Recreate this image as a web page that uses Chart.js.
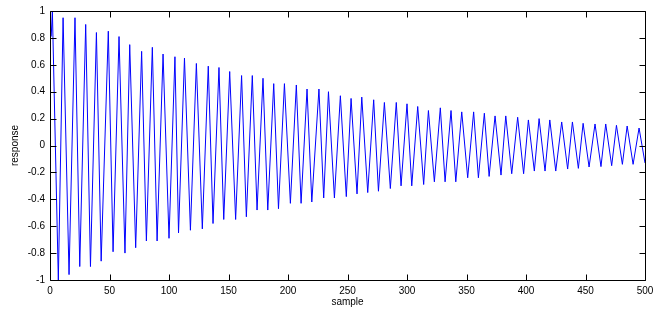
<!DOCTYPE html>
<html>
<head>
<meta charset="utf-8">
<script src="https://cdn.jsdelivr.net/npm/chart.js@4/dist/chart.umd.min.js"></script>
<style>
  html, body { margin: 0; padding: 0; background: #fff; }
  #wrap { width: 661px; height: 309px; position: relative; }
</style>
</head>
<body>
<div id="wrap"><canvas id="chart"></canvas></div>
<script>
// local maxima / minima of the response (sample index, value)
const peakSamples = [2, 11, 21, 30, 39, 49, 58, 67, 77, 86, 95, 105, 113, 123, 133, 142, 151, 161, 170, 179,
  188, 197, 207, 216, 226, 234, 244, 253, 262, 272, 281, 291, 300, 309, 318, 328, 337, 346, 356, 365,
  374, 383, 393, 402, 411, 420, 430, 439, 448, 458, 467, 476, 485, 495];
const peakValues = [1.0, 0.95, 0.95, 0.90, 0.84, 0.85, 0.81, 0.75, 0.70, 0.73, 0.68, 0.66, 0.65, 0.61, 0.59, 0.58, 0.55, 0.52, 0.52, 0.50,
  0.46, 0.46, 0.45, 0.42, 0.42, 0.40, 0.37, 0.35, 0.36, 0.34, 0.32, 0.32, 0.31, 0.29, 0.26, 0.28, 0.26, 0.25, 0.25, 0.24,
  0.22, 0.22, 0.21, 0.19, 0.20, 0.19, 0.175, 0.175, 0.165, 0.16, 0.16, 0.15, 0.145, 0.13];
const troughSamples = [7, 16, 25, 34, 43, 53, 63, 72, 81, 90, 100, 108, 118, 128, 137, 146, 156, 165, 174, 183,
  192, 202, 211, 220, 230, 239, 249, 258, 267, 276, 286, 295, 304, 314, 323, 332, 341, 351, 360, 369,
  379, 388, 398, 407, 416, 425, 435, 444, 453, 463, 472, 481, 490];
const troughValues = [-1.0, -0.96, -0.90, -0.90, -0.86, -0.79, -0.80, -0.76, -0.71, -0.71, -0.69, -0.65, -0.63, -0.62, -0.58, -0.55, -0.55, -0.53, -0.48, -0.48,
  -0.47, -0.43, -0.43, -0.42, -0.39, -0.39, -0.38, -0.36, -0.35, -0.34, -0.32, -0.30, -0.30, -0.29, -0.27, -0.27, -0.27, -0.24, -0.24, -0.23,
  -0.22, -0.21, -0.21, -0.19, -0.19, -0.19, -0.175, -0.17, -0.16, -0.157, -0.15, -0.14, -0.14];
// first and last sample
const edgeSamples = [1, 500];
const edgeValues = [0.81, -0.13];

const xTicks = [0, 50, 100, 150, 200, 250, 300, 350, 400, 450, 500];
const xTickLabels = ['0', '50', '100', '150', '200', '250', '300', '350', '400', '450', '500'];
const yTicks = [-1, -0.8, -0.6, -0.4, -0.2, 0, 0.2, 0.4, 0.6, 0.8, 1];
const yTickLabels = ['-1', '-0.8', '-0.6', '-0.4', '-0.2', '0', '0.2', '0.4', '0.6', '0.8', '1'];

const pts = [];
peakSamples.forEach((s, i) => pts.push({ x: s, y: peakValues[i] }));
troughSamples.forEach((s, i) => pts.push({ x: s, y: troughValues[i] }));
edgeSamples.forEach((s, i) => pts.push({ x: s, y: edgeValues[i] }));
pts.sort((a, b) => a.x - b.x);

const FONT = { family: '"Liberation Sans", Arial, Helvetica, sans-serif', size: 10 };

// matlab style box with inward ticks on all four sides
const boxPlugin = {
  id: 'box',
  afterDraw(chart) {
    const { ctx, chartArea: a, scales } = chart;
    const L = Math.round(a.left) + 0.5, R = Math.round(a.right) + 0.5;
    const T = Math.round(a.top) + 0.5, B = Math.round(a.bottom) + 0.5;
    const len = 6;
    ctx.save();
    ctx.strokeStyle = '#000';
    ctx.lineWidth = 1;
    ctx.beginPath();
    ctx.rect(L, T, R - L, B - T);
    xTicks.forEach(v => {
      const px = Math.round(scales.x.getPixelForValue(v)) + 0.5;
      ctx.moveTo(px, B); ctx.lineTo(px, B - len);
      ctx.moveTo(px, T); ctx.lineTo(px, T + len);
    });
    yTicks.forEach(v => {
      const py = Math.round(scales.y.getPixelForValue(v)) + 0.5;
      ctx.moveTo(L, py); ctx.lineTo(L + len, py);
      ctx.moveTo(R, py); ctx.lineTo(R - len, py);
    });
    ctx.stroke();
    ctx.restore();
  }
};

new Chart(document.getElementById('chart'), {
  type: 'line',
  data: {
    datasets: [{
      data: pts,
      borderColor: '#0000ff',
      borderWidth: 1,
      pointRadius: 0,
      tension: 0,
      fill: false
    }]
  },
  options: {
    responsive: true,
    maintainAspectRatio: false,
    animation: false,
    events: [],
    layout: { padding: { left: 0, right: 16, top: 9, bottom: 0 } },
    plugins: { legend: { display: false }, tooltip: { enabled: false } },
    scales: {
      x: {
        type: 'linear', min: 0, max: 500,
        grid: { display: false, drawTicks: false },
        border: { display: false },
        afterBuildTicks: s => { s.ticks = xTicks.map(v => ({ value: v })); },
        afterFit: s => { s.height = 29; },
        ticks: {
          color: '#000', font: FONT, padding: 5, maxRotation: 0, autoSkip: false,
          callback: (v, i) => xTickLabels[i]
        },
        title: { display: true, text: 'sample', color: '#000', font: FONT, padding: { top: 0, bottom: 1 } }
      },
      y: {
        type: 'linear', min: -1, max: 1,
        grid: { display: false, drawTicks: false },
        border: { display: false },
        afterBuildTicks: s => { s.ticks = yTicks.map(v => ({ value: v })); },
        afterFit: s => { s.width = 50; },
        ticks: {
          color: '#000', font: FONT, padding: 5, autoSkip: false,
          callback: (v, i) => yTickLabels[i]
        },
        title: { display: true, text: 'response', color: '#000', font: FONT, padding: { top: 9, bottom: 0 } }
      }
    }
  },
  plugins: [boxPlugin]
});
</script>
</body>
</html>
